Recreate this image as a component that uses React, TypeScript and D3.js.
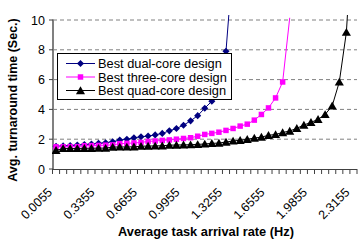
import * as d3 from "d3";

const categories = [
  "0.0055", "0.0605", "0.1155", "0.1705", "0.2255", "0.2805", "0.3355", "0.3905",
  "0.4455", "0.5005", "0.5555", "0.6105", "0.6655", "0.7205", "0.7755", "0.8305",
  "0.8855", "0.9405", "0.9955", "1.0505", "1.1055", "1.1605", "1.2155", "1.2705",
  "1.3255", "1.3805", "1.4355", "1.4905", "1.5455", "1.6005", "1.6555", "1.7105",
  "1.7655", "1.8205", "1.8755", "1.9305", "1.9855", "2.0405", "2.0955", "2.1505",
  "2.2055", "2.2605", "2.3155",
];
const xTickLabels = ["0.0055", "0.3355", "0.6655", "0.9955", "1.3255", "1.6555", "1.9855", "2.3155"];
const yTicks = [0, 2, 4, 6, 8, 10];

// values past 10 leave the chart (line runs out the top, no marker)
const dualCore = [
  1.52, 1.55, 1.58, 1.61, 1.64, 1.68, 1.72, 1.76, 1.83, 1.94, 2.0, 2.09, 2.16,
  2.21, 2.29, 2.39, 2.56, 2.72, 2.94, 3.23, 3.58, 4.08, 4.55, 5.8, 7.9, 14,
];
const threeCore = [
  1.49, 1.49, 1.5, 1.5, 1.56, 1.57, 1.58, 1.6, 1.62, 1.7, 1.72, 1.75, 1.78,
  1.85, 1.88, 1.92, 1.95, 2.0, 2.05, 2.1, 2.2, 2.32, 2.39, 2.47, 2.59, 2.72,
  2.88, 3.01, 3.28, 3.66, 4.1, 4.77, 5.84, 10.15,
];
const quadCore = [
  1.25, 1.38, 1.38, 1.38, 1.39, 1.39, 1.4, 1.4, 1.47, 1.48, 1.48, 1.49, 1.53,
  1.54, 1.55, 1.56, 1.6, 1.61, 1.62, 1.63, 1.65, 1.68, 1.72, 1.74, 1.81, 1.88,
  1.93, 1.99, 2.08, 2.14, 2.26, 2.32, 2.45, 2.55, 2.73, 2.95, 3.13, 3.33, 3.66,
  4.24, 5.84, 9.18, 17,
];

const seriesNames = ["Best dual-core design", "Best three-core design", "Best quad-core design"];
const seriesColors = ["#000080", "#FF00FF", "#000000"];
const seriesShapes = [d3.symbolDiamond2, d3.symbolSquare, d3.symbolTriangle];
const seriesSizes = [32, 30, 36];

const font = "'Liberation Sans', Arial, sans-serif";

export default function App() {
  const W = 360;
  const H = 244;
  const x = d3.scaleBand<string>().domain(categories).range([52.5, 357]).paddingInner(0).paddingOuter(0);
  const y = d3.scaleLinear().domain([0, 10]).range([169, 20]);
  const cx = (i: number) => (x(categories[i]) as number) + x.bandwidth() / 2;

  const allSeries = [dualCore, threeCore, quadCore];
  const line = d3
    .line<number>()
    .x((_, i) => cx(i))
    .y((d) => y(d));

  const legendY = [63.5, 77, 90.5];

  return (
    <svg width={W} height={H} style={{ position: "absolute", left: 0, top: 0 }} fontFamily={font}>
      <defs>
        <clipPath id="plotClip">
          <rect x={52} y={15} width={308} height={160} />
        </clipPath>
      </defs>
      <rect width={W} height={H} fill="#fff" />

      {/* gridlines */}
      {yTicks.filter((t) => t > 0).map((t) => (
        <line key={t} x1={53} x2={357} y1={y(t)} y2={y(t)} stroke="#808080" strokeWidth={1} strokeDasharray="4,3" />
      ))}

      {/* y axis */}
      <line x1={53} x2={53} y1={19.5} y2={170} stroke="#808080" strokeWidth={2} />
      {yTicks.map((t) => (
        <g key={t}>
          <line x1={49} x2={53} y1={y(t)} y2={y(t)} stroke="#404040" />
          <text x={45} y={y(t)} dy="0.36em" textAnchor="end" fontSize={12.5} fill="#000">
            {t}
          </text>
        </g>
      ))}

      {/* x axis */}
      <line x1={52} x2={357} y1={169.5} y2={169.5} stroke="#404040" />
      {categories.map((c) => (
        <line key={c} x1={(x(c) as number) + x.bandwidth()} x2={(x(c) as number) + x.bandwidth()} y1={169} y2={174} stroke="#404040" />
      ))}
      <line x1={52.5} x2={52.5} y1={169} y2={174} stroke="#404040" />
      {xTickLabels.map((lab) => {
        const px = cx(categories.indexOf(lab)) - 3;
        return (
          <text key={lab} x={px} y={193} textAnchor="end" fontSize={12.5} transform={`rotate(-45 ${px} 193)`}>
            {lab}
          </text>
        );
      })}

      {/* series */}
      <g clipPath="url(#plotClip)">
        {allSeries.map((vals, s) => (
          <g key={s}>
            <path d={line(vals) ?? ""} fill="none" stroke={seriesColors[s]} strokeWidth={1} />
            {vals.map((v, i) =>
              v <= 10 ? (
                <path
                  key={i}
                  d={d3.symbol(seriesShapes[s], seriesSizes[s])() ?? ""}
                  transform={`translate(${cx(i)},${y(v) + (s === 2 ? 1 : 0)})`}
                  fill={seriesColors[s]}
                />
              ) : null
            )}
          </g>
        ))}
      </g>

      {/* legend */}
      <rect x={57.5} y={53.5} width={174} height={46} fill="#fff" stroke="#000" strokeWidth={1} />
      {seriesNames.map((name, s) => (
        <g key={name}>
          <line x1={66} x2={95} y1={legendY[s]} y2={legendY[s]} stroke={seriesColors[s]} strokeWidth={1} />
          <path
            d={d3.symbol(seriesShapes[s], seriesSizes[s])() ?? ""}
            transform={`translate(80.5,${legendY[s] + (s === 2 ? 1 : 0)})`}
            fill={seriesColors[s]}
          />
          <text x={98} y={legendY[s]} dy="0.36em" fontSize={12.8} fill="#000">
            {name}
          </text>
        </g>
      ))}

      {/* axis titles */}
      <text
        x={17}
        y={100}
        textAnchor="middle"
        fontSize={12.5}
        fontWeight="bold"
        transform="rotate(-90 17 100)"
      >
        Avg. turnaround time (Sec.)
      </text>
      <text x={206} y={236} textAnchor="middle" fontSize={12.8} fontWeight="bold">
        Average task arrival rate (Hz)
      </text>
    </svg>
  );
}
